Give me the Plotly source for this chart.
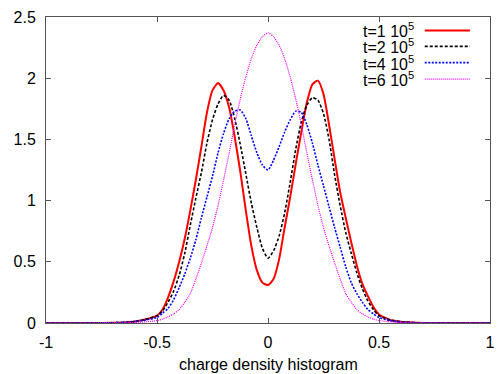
import plotly.graph_objects as go

# ---- data ----
x_vals = [-1.0, -0.8, -0.7, -0.65, -0.6, -0.55,
          -0.5, -0.475, -0.45, -0.425, -0.4, -0.375, -0.35, -0.325, -0.3, -0.275,
          -0.25, -0.225, -0.2, -0.175, -0.15, -0.125, -0.1, -0.075, -0.05, -0.025,
          0.0,
          0.025, 0.05, 0.075, 0.1, 0.125, 0.15, 0.175, 0.2, 0.225, 0.25,
          0.275, 0.3, 0.325, 0.35, 0.375, 0.4, 0.425, 0.45, 0.475, 0.5,
          0.55, 0.6, 0.65, 0.7, 0.8, 1.0]

t1 = [0, 0, 0.002, 0.005, 0.012, 0.03,
      0.06, 0.11, 0.21, 0.34, 0.50, 0.69, 0.92, 1.17, 1.44, 1.72,
      1.90, 1.96, 1.90, 1.76, 1.52, 1.24, 0.92, 0.63, 0.43, 0.33,
      0.31,
      0.36, 0.52, 0.78, 1.03, 1.30, 1.56, 1.80, 1.95, 1.98, 1.87,
      1.62, 1.34, 1.07, 0.86, 0.66, 0.47, 0.32, 0.22, 0.13, 0.07,
      0.025, 0.01, 0.004, 0.001, 0, 0]

t2 = [0, 0, 0.002, 0.005, 0.012, 0.03,
      0.06, 0.10, 0.17, 0.26, 0.39, 0.57, 0.80, 1.02, 1.23, 1.47,
      1.66, 1.79, 1.86, 1.82, 1.67, 1.46, 1.22, 0.98, 0.78, 0.61,
      0.53,
      0.59, 0.71, 0.90, 1.15, 1.42, 1.64, 1.78, 1.84, 1.82, 1.71,
      1.50, 1.21, 0.96, 0.74, 0.57, 0.41, 0.28, 0.18, 0.11, 0.06,
      0.025, 0.01, 0.004, 0.001, 0, 0]

t4 = [0, 0, 0.002, 0.005, 0.012, 0.025,
      0.045, 0.08, 0.12, 0.19, 0.29, 0.40, 0.53, 0.68, 0.86, 1.03,
      1.20, 1.39, 1.55, 1.67, 1.73, 1.74, 1.67, 1.53, 1.39, 1.29,
      1.25,
      1.33, 1.44, 1.56, 1.66, 1.73, 1.72, 1.62, 1.47, 1.29, 1.12,
      0.95, 0.78, 0.62, 0.46, 0.33, 0.24, 0.17, 0.11, 0.075, 0.045,
      0.02, 0.008, 0.003, 0.001, 0, 0]

t6 = [0, 0, 0.0005, 0.001, 0.004, 0.01,
      0.02, 0.032, 0.05, 0.075, 0.11, 0.17, 0.24, 0.36, 0.49, 0.63,
      0.78, 0.96, 1.17, 1.39, 1.62, 1.83, 2.01, 2.16, 2.27, 2.34,
      2.37,
      2.34, 2.27, 2.16, 2.01, 1.83, 1.62, 1.39, 1.17, 0.96, 0.78,
      0.63, 0.49, 0.36, 0.24, 0.17, 0.11, 0.075, 0.05, 0.032, 0.02,
      0.01, 0.004, 0.001, 0.0005, 0, 0]

series_names = ["t=1 10<sup>5</sup>", "t=2 10<sup>5</sup>",
                "t=4 10<sup>5</sup>", "t=6 10<sup>5</sup>"]
x_ticks = [-1, -0.5, 0, 0.5, 1]
x_tick_text = ["-1", "-0.5", "0", "0.5", "1"]
y_ticks = [0, 0.5, 1, 1.5, 2, 2.5]
y_tick_text = ["0", "0.5", "1", "1.5", "2", "2.5"]
x_title = "charge density histogram"

# ---- styles ----
styles = [
    dict(color="#ff0000", width=2, dash="solid"),
    dict(color="#000000", width=1.6, dash="3px,2px"),
    dict(color="#0000ff", width=1.6, dash="2px,1.5px"),
    dict(color="#ff00ff", width=1.2, dash="1px,1px"),
]
FONT = "Liberation Sans, Arial, Helvetica, sans-serif"
FS = 16

fig = go.Figure()
for name, ys, st in zip(series_names, [t1, t2, t4, t6], styles):
    fig.add_trace(go.Scatter(x=x_vals, y=ys, mode="lines", name=name,
                             line=dict(shape="spline", smoothing=0.6, **st),
                             showlegend=False))

# gnuplot-style key: right-aligned text, line sample on the right
row_y = [0.956, 0.904, 0.851, 0.797]
for name, st, yy in zip(series_names, styles, row_y):
    fig.add_annotation(x=0.833, y=yy, xref="paper", yref="paper",
                       text=name, showarrow=False, xanchor="right",
                       yanchor="middle", font=dict(family=FONT, size=FS, color="#000"))
    fig.add_shape(type="line", xref="paper", yref="paper",
                  x0=0.853, x1=0.955, y0=yy, y1=yy, line=st)

# x-axis title placed under the tick labels
fig.add_annotation(x=0.5, y=-0.1, xref="paper", yref="paper",
                   text=x_title, showarrow=False, xanchor="center", yanchor="top",
                   font=dict(family=FONT, size=FS, color="#000"))

axis_common = dict(showline=True, linecolor="#555555", linewidth=1,
                   mirror="ticks", ticks="inside", ticklen=5, tickwidth=1,
                   tickcolor="#555555", showgrid=False, zeroline=False,
                   automargin=False,
                   tickfont=dict(family=FONT, size=FS, color="#000"))

fig.update_layout(
    width=497, height=374,
    margin=dict(l=46, r=7, t=17, b=51, pad=0),
    paper_bgcolor="white", plot_bgcolor="white",
    xaxis=dict(range=[-1, 1], tickvals=x_ticks, ticktext=x_tick_text,
               ticklabelstandoff=5, **axis_common),
    yaxis=dict(range=[0, 2.5], tickvals=y_ticks, ticktext=y_tick_text,
               ticklabelstandoff=6, **axis_common),
)

fig.write_html("out.html",
               config={"displayModeBar": False},
               post_script="document.body.style.margin='0';document.body.style.padding='0';")
